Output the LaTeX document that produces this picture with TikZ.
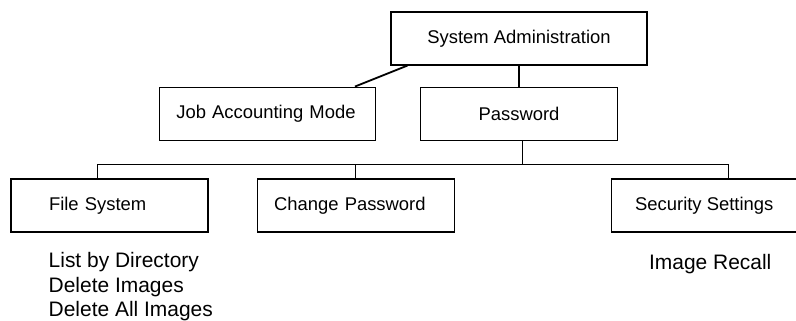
\documentclass[tikz,border=0pt]{standalone}
\usepackage{fontspec}
\setmainfont{Liberation Sans}
\usepackage{xcolor}
\usetikzlibrary{positioning, calc}
\tikzset{
  % plain box
  rbox/.style={
    rectangle, draw=black, line width=0.8pt,
    align=center,
    minimum height=1.325cm,
    font=\fontsize{13.1}{17.4}\selectfont,
    inner sep=0pt
  },
  % box with text pushed to the left
  rbox left/.style={rbox, align=left},
  % lines of the tree
  link/.style={draw=black, line width=0.8pt},
  % plain text below a box
  subtext/.style={align=left, inner sep=0pt, font=\fontsize{14.9}{17.4}\selectfont},
}
\begin{document}
\begin{tikzpicture}

  \useasboundingbox (0,0) rectangle (19.9,-8);

  \node[rbox, minimum width=6.4cm] (sys) at (12.975,-0.9625) {System Administration};

  \node[rbox, minimum width=4.925cm, below=0.525cm of sys] (pw) {Password};

  \node[rbox left, text width=4.55cm, inner xsep=0.425cm, left=1.1cm of pw]
    (jam) {Job Accounting Mode};

  \node[rbox left, text width=3.025cm, inner xsep=0.95cm] (fs) at (2.7375,-5.1375)
    {File System};

  \node[rbox left, text width=4.075cm, inner xsep=0.425cm, right=1.2cm of fs]
    (cp) {Change Password};

  \node[rbox, minimum width=4.65cm, right=3.9cm of cp] (ss) {Security Settings};

  \node[subtext, below right=0.49cm and 0.95cm of fs.south west] (fslist)
    {List by Directory\\Delete Images\\Delete All Images};

  \node[subtext, below=0.53cm of ss, xshift=0.15cm] (sslist) {Image Recall};

  %% Lines
  \draw[link, line width=1.3pt] ($(sys.south west)+(0.425,0)$) -- ($(jam.north east)+(-0.525,0)$);
  \draw[link] (sys.south) -- (sys.south |- pw.north);
  \draw[link] ([xshift=0.09cm]pw.south) -- ++(0,-0.6) coordinate (bus);
  \draw[link] ([xshift=-0.29cm]fs.north) |- (bus);
  \draw[link] (cp.north) -- (cp.north |- bus);
  \draw[link] ([xshift=0.61cm]ss.north) |- (bus);

\end{tikzpicture}
\end{document}
